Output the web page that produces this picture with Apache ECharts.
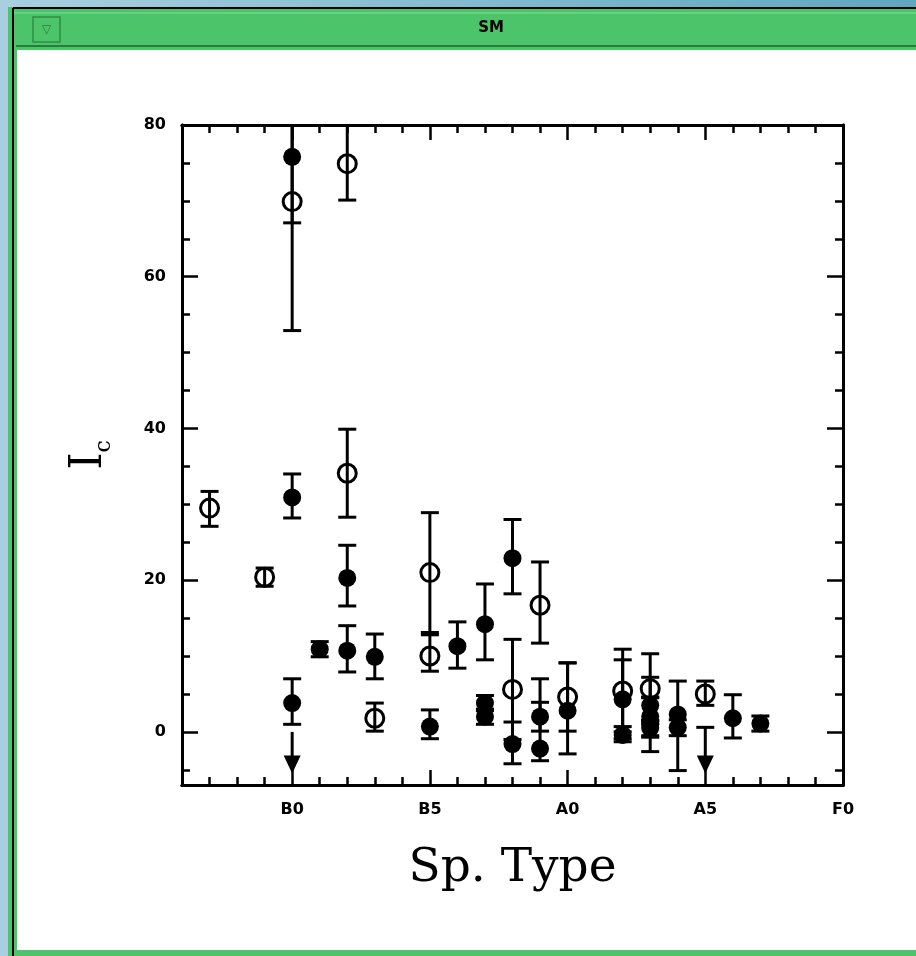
<!DOCTYPE html>
<html>
<head>
<meta charset="utf-8">
<script src="https://cdn.jsdelivr.net/npm/echarts@6/dist/echarts.min.js"></script>
<style>
html,body{margin:0;padding:0;background:#fff;}
#chart{width:916px;height:956px;}
</style>
</head>
<body>
<div id="chart"></div>
<script>
// ---- data (Sp. Type index: B0 = 0, B5 = 5, A0 = 10, A5 = 15, F0 = 20) ----
var xTickValues = [0, 5, 10, 15, 20];
var xTickLabels = ['B0', 'B5', 'A0', 'A5', 'F0'];
var yTickValues = [0, 20, 40, 60, 80];
var yTickLabels = ['0', '20', '40', '60', '80'];

// open circles
var openX  = [-3, -1, 0, 2, 2, 3, 5, 5, 8, 9, 10, 12, 13, 15];
var openY  = [29.5, 20.4, 69.9, 74.9, 34.1, 1.8, 21.0, 10.0, 5.6, 16.7, 4.6, 5.4, 5.7, 5.0];
var openLo = [27.1, 19.2, 52.9, 70.1, 28.3, 0.1, 13.1, 8.0, -1.0, 11.7, 0.1, 0.0, 1.1, 3.5];
var openHi = [31.7, 21.6, 87.0, 80.0, 39.9, 3.8, 28.9, 12.8, 12.2, 22.4, 9.1, 10.9, 10.3, 6.7];

// filled circles
var filledX  = [0, 0, 0, 1, 2, 2, 3, 5, 6, 7, 7, 7, 8, 8, 9, 9, 10, 12, 12, 13, 13, 13, 13, 14, 14, 16, 17];
var filledY  = [75.8, 30.9, 3.8, 10.9, 20.3, 10.7, 9.9, 0.7, 11.3, 14.2, 3.8, 2.0, 22.9, -1.6, 2.0, -2.2, 2.8, 4.3, -0.4, 3.5, 2.0, 1.0, 0.5, 2.3, 0.6, 1.8, 1.1];
var filledLo = [67.1, 28.2, 1.0, 9.9, 16.6, 7.9, 7.0, -0.9, 8.4, 9.5, 2.8, 1.0, 18.2, -4.2, 0.1, -3.8, -2.9, -0.9, -1.3, 1.5, -0.7, -2.6, -0.5, -5.1, -0.5, -0.8, 0.1];
var filledHi = [85.0, 34.0, 7.0, 11.9, 24.6, 14.0, 12.9, 2.9, 14.5, 19.5, 4.8, 3.0, 28.0, 1.3, 3.9, 7.0, 9.1, 9.5, 0.7, 4.5, 7.2, 4.6, 1.5, 6.7, 1.6, 4.9, 2.1];

// upper-limit arrows
var arrowX   = [0, 15];
var arrowTop = [0, 0.6];
var arrowTip = [-5.5, -5.5];
var arrowCap = [0, 1];

var X_MIN = -4, X_MAX = 20, Y_MIN = -7, Y_MAX = 80;

function range(a, b, step) { var r = []; for (var v = a; v <= b + 1e-9; v += step) r.push(v); return r; }
var xMinor = range(-4, 20, 1).filter(function (v) { return xTickValues.indexOf(v) < 0; });
var yMinor = range(-5, 80, 5).filter(function (v) { return yTickValues.indexOf(v) < 0; });

var errData = [];
openX.forEach(function (x, i) { errData.push([x, openLo[i], openHi[i]]); });
filledX.forEach(function (x, i) { errData.push([x, filledLo[i], filledHi[i]]); });
var arrowData = arrowX.map(function (x, i) { return [x, arrowTop[i], arrowTip[i], arrowCap[i]]; });

var chart = echarts.init(document.getElementById('chart'), null, { renderer: 'canvas' });
var FONT = 'DejaVu Sans';
var lineStyle = { color: '#000', width: 3 };

function xAxisDef(pos, ticks, len, labels) {
  return {
    type: 'value', position: pos, min: X_MIN, max: X_MAX, gridIndex: 0,
    axisLine: { show: true, onZero: false, lineStyle: lineStyle },
    axisTick: { show: true, inside: true, length: len, customValues: ticks, lineStyle: { color: '#000', width: 2.5 } },
    axisLabel: labels ? {
      show: true, customValues: xTickValues, margin: 17,
      formatter: function (v) { var k = xTickValues.indexOf(v); return k >= 0 ? xTickLabels[k] : ''; },
      color: '#000', fontFamily: FONT, fontWeight: 'bold', fontSize: 16
    } : { show: false },
    splitLine: { show: false }
  };
}
function yAxisDef(pos, ticks, len, labels) {
  return {
    type: 'value', position: pos, min: Y_MIN, max: Y_MAX, gridIndex: 0,
    axisLine: { show: true, onZero: false, lineStyle: lineStyle },
    axisTick: { show: true, inside: true, length: len, customValues: ticks, lineStyle: { color: '#000', width: 2.5 } },
    axisLabel: labels ? {
      show: true, customValues: yTickValues, margin: 16,
      formatter: function (v) { var k = yTickValues.indexOf(v); return k >= 0 ? yTickLabels[k] : ''; },
      color: '#000', fontFamily: FONT, fontWeight: 'bold', fontSize: 16
    } : { show: false },
    splitLine: { show: false }
  };
}

var xAxes = [
  xAxisDef('bottom', xTickValues, 15, true),
  xAxisDef('bottom', xMinor, 8, false),
  xAxisDef('top', xTickValues, 15, false),
  xAxisDef('top', xMinor, 8, false)
];
xAxes[0].name = 'Sp. Type';
xAxes[0].nameLocation = 'middle';
xAxes[0].nameGap = 60;
xAxes[0].nameTextStyle = { fontFamily: 'DejaVu Serif', fontSize: 47, color: '#000' };

var yAxes = [
  yAxisDef('left', yTickValues, 16, true),
  yAxisDef('left', yMinor, 8, false),
  yAxisDef('right', yTickValues, 16, false),
  yAxisDef('right', yMinor, 8, false)
];

function renderErr(params, api) {
  var x = api.value(0), lo = api.value(1), hi = api.value(2);
  var loC = Math.max(lo, Y_MIN), hiC = Math.min(hi, Y_MAX);
  var p1 = api.coord([x, loC]), p2 = api.coord([x, hiC]);
  var cw = 9;
  var children = [{ type: 'line', shape: { x1: p1[0], y1: p1[1], x2: p2[0], y2: p2[1] }, style: { stroke: '#000', lineWidth: 3 } }];
  if (lo >= Y_MIN) children.push({ type: 'line', shape: { x1: p1[0] - cw, y1: p1[1], x2: p1[0] + cw, y2: p1[1] }, style: { stroke: '#000', lineWidth: 3 } });
  if (hi <= Y_MAX) children.push({ type: 'line', shape: { x1: p2[0] - cw, y1: p2[1], x2: p2[0] + cw, y2: p2[1] }, style: { stroke: '#000', lineWidth: 3 } });
  return { type: 'group', children: children };
}
function renderArrow(params, api) {
  var x = api.value(0), top = api.value(1), tip = api.value(2), cap = api.value(3);
  var pt = api.coord([x, top]), pp = api.coord([x, tip]);
  var hw = 8.5, hh = 18;
  var children = [
    { type: 'line', shape: { x1: pt[0], y1: pt[1], x2: pp[0], y2: pp[1] - hh + 2 }, style: { stroke: '#000', lineWidth: 3 } },
    { type: 'polygon', shape: { points: [[pp[0] - hw, pp[1] - hh], [pp[0] + hw, pp[1] - hh], [pp[0], pp[1]]] }, style: { fill: '#000' } }
  ];
  if (cap) children.push({ type: 'line', shape: { x1: pt[0] - 9, y1: pt[1], x2: pt[0] + 9, y2: pt[1] }, style: { stroke: '#000', lineWidth: 3 } });
  return { type: 'group', children: children };
}

var option = {
  animation: false,
  backgroundColor: '#fff',
  grid: { left: 182, top: 125, width: 661, height: 660, containLabel: false },
  xAxis: xAxes,
  yAxis: yAxes,
  graphic: [
    // desktop background strip
    { type: 'rect', shape: { x: 0, y: 0, width: 916, height: 956 }, style: { fill: new echarts.graphic.LinearGradient(0, 0, 1, 0, [{ offset: 0, color: '#a9cfe0' }, { offset: 1, color: '#5fa7bf' }]) }, z: -10 },
    // window frame
    { type: 'rect', shape: { x: 8, y: 7, width: 910, height: 952 }, style: { fill: '#4cc46a' }, z: -9 },
    { type: 'line', shape: { x1: 13, y1: 8, x2: 916, y2: 8 }, style: { stroke: '#000', lineWidth: 2 }, z: -8 },
    { type: 'line', shape: { x1: 13, y1: 8, x2: 13, y2: 956 }, style: { stroke: '#000', lineWidth: 2 }, z: -8 },
    { type: 'line', shape: { x1: 14, y1: 13, x2: 916, y2: 13 }, style: { stroke: '#7fe09a', lineWidth: 1 }, z: -8 },
    { type: 'line', shape: { x1: 16, y1: 46, x2: 916, y2: 46 }, style: { stroke: '#2a7a3e', lineWidth: 2 }, z: -8 },
    { type: 'rect', shape: { x: 17, y: 50, width: 899, height: 900 }, style: { fill: '#fff' }, z: -8 },
    { type: 'rect', shape: { x: 33, y: 17, width: 27, height: 25 }, style: { fill: '#4cc46a', stroke: '#2f8c47', lineWidth: 1.5 }, z: -7 },
    { type: 'text', x: 46.5, y: 30, style: { text: '▽', fill: '#2a7a3e', font: '12px DejaVu Sans', align: 'center', verticalAlign: 'middle' }, z: -6 },
    { type: 'text', x: 491, y: 28, style: { text: 'SM', fill: '#000', font: 'bold 15px DejaVu Sans', align: 'center', verticalAlign: 'middle' }, z: -6 },
    // y axis title I_c
    { type: 'text', x: 90, y: 455, rotation: Math.PI / 2, style: {
        text: '{a|I}{b|c}', align: 'center', verticalAlign: 'middle',
        rich: { a: { fontFamily: 'DejaVu Serif', fontSize: 44, fill: '#000', lineHeight: 50 }, b: { fontFamily: 'DejaVu Serif', fontSize: 22, fill: '#000', verticalAlign: 'bottom', lineHeight: 50, padding: [14, 0, 0, 0] } } }, z: 5 }
  ],
  series: [
    { type: 'custom', name: 'err', xAxisIndex: 0, yAxisIndex: 0, renderItem: renderErr, data: errData, z: 2, clip: true },
    { type: 'custom', name: 'arrow', xAxisIndex: 0, yAxisIndex: 0, renderItem: renderArrow, data: arrowData, z: 2 },
    { type: 'scatter', name: 'open', xAxisIndex: 0, yAxisIndex: 0, symbol: 'circle', symbolSize: 18,
      itemStyle: { color: 'rgba(0,0,0,0)', borderColor: '#000', borderWidth: 3, opacity: 1 },
      data: openX.map(function (x, i) { return [x, openY[i]]; }), z: 3 },
    { type: 'scatter', name: 'filled', xAxisIndex: 0, yAxisIndex: 0, symbol: 'circle', symbolSize: 18,
      itemStyle: { color: '#000', opacity: 1 },
      data: filledX.map(function (x, i) { return [x, filledY[i]]; }), z: 4 }
  ]
};
chart.setOption(option);
</script>
</body>
</html>
